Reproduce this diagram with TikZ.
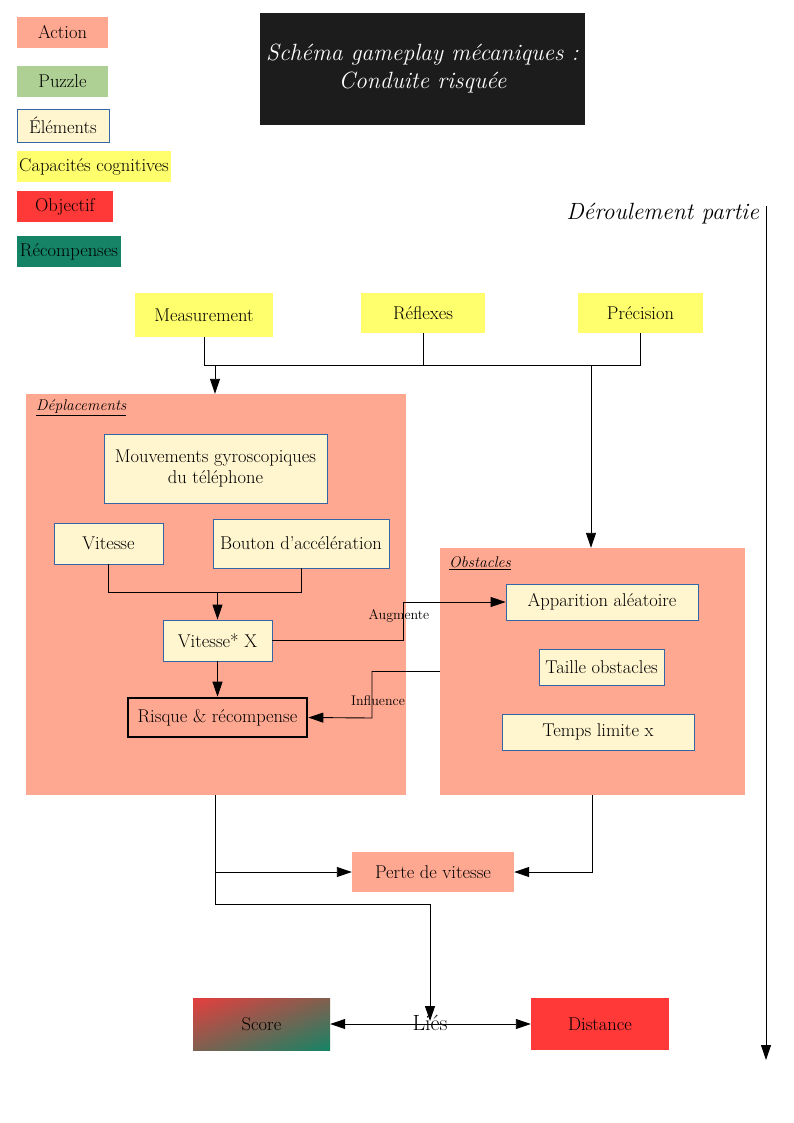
\documentclass[tikz,border=0pt]{standalone}
\usepackage{fontspec}
\usetikzlibrary{arrows.meta,calc,shadings}
\definecolor{salmon}{HTML}{FFA891}
\definecolor{puzz}{HTML}{AFD095}
\definecolor{cream}{HTML}{FFF5CE}
\definecolor{eblue}{HTML}{3465A4}
\definecolor{cogyel}{HTML}{FFFF6D}
\definecolor{objred}{HTML}{FF3838}
\definecolor{recgreen}{HTML}{158466}
\definecolor{titlebg}{HTML}{1C1C1C}
\definecolor{scoremid}{HTML}{80604F}
\definecolor{scorered}{HTML}{E53E3E}
\begin{document}
\begin{tikzpicture}[x=1pt,y=-1pt,
  every node/.style={inner sep=0pt, align=center},
  fs/.style={font=\fontsize{18.5}{21}\selectfont},
  sm/.style={font=\fontsize{14}{16}\selectfont},
  sz/.style 2 args={minimum width=#1pt, minimum height=#2pt},
  act/.style={fs, fill=salmon},
  elem/.style={fs, fill=cream, draw=eblue, line width=0.8pt},
  cog/.style={fs, fill=cogyel},
  grp/.style={fill=salmon},
  grplabel/.style={font=\fontsize{15.5}{18}\selectfont\itshape, anchor=west},
  wire/.style={line width=0.9pt},
  arr/.style={wire, -{Triangle[length=15pt,width=10pt]}},
  darr/.style={wire, {Triangle[length=15pt,width=10pt]}-{Triangle[length=15pt,width=10pt]}}]
\useasboundingbox (0,0) rectangle (794,1123);
\fill[white] (0,0) rectangle (794,1123);

% legend
\node[act, sz={91}{31}] (lact) at (62.5,32.5) {Action};
\node[fs, fill=puzz, sz={91}{31}] (lpuz) at (62.5,81.5) {Puzzle};
\node[elem, sz={92}{33}] (lelem) at (63,125.5) {Éléments};
\node[cog, sz={154}{31}] (lcog) at (94,166.5) {Capacités cognitives};
\node[fs, fill=objred, sz={96}{31}] (lobj) at (65,206.5) {Objectif};
\node[fs, fill=recgreen, sz={104}{31}] (lrec) at (69,251.5) {Récompenses};

% title
\node[fill=titlebg, text=white, sz={325}{112}, font=\fontsize{23.5}{28}\selectfont\itshape] (title) at (422.5,69) {Schéma gameplay mécaniques :\\Conduite risquée};

% timeline
\node[font=\fontsize{23.5}{26}\selectfont\itshape, anchor=east] (deroul) at (759,214) {Déroulement partie};
\coordinate (tl0) at (766,206);
\coordinate (tl1) at (766,1060);
\draw[arr] (tl0) -- (tl1);

% cognitive capacities
\node[cog, sz={138}{44}] (meas) at (204,315) {Measurement};
\node[cog, sz={124}{40}] (refl) at (423,313) {Réflexes};
\node[cog, sz={125}{40}] (prec) at (640.5,313) {Précision};

% groups
\node[grp, sz={380}{401}] (dep) at (216,594.5) {};
\node[grplabel] (deplab) at (36,408) {\underline{Déplacements}};
\node[grp, sz={305}{247}] (obs) at (592.5,671.5) {};
\node[grplabel] (obslab) at (449,563) {\underline{Obstacles}};

% connections from capacities
\coordinate (j1) at (215,365);
\coordinate (j2) at (591,365);
\draw[wire] (meas.south) -- (meas.south |- j1) -- (prec.south |- j1) -- (prec.south);
\draw[wire] (refl.south) -- (refl.south |- j1);
\draw[arr] (j1) -- (j1 |- dep.north);
\draw[arr] (j2) -- (j2 |- obs.north);

% Déplacements content
\node[elem, sz={223}{69}] (gyro) at (215.5,468.5) {Mouvements gyroscopiques\\du téléphone};
\node[elem, sz={109}{41}] (vit) at (108.5,543.5) {Vitesse};
\node[elem, sz={176}{49}] (bout) at (301,543.5) {Bouton d’accélération};
\node[elem, sz={109}{41}] (vx) at (217.5,640.5) {Vitesse* X};
\node[act, draw=black, line width=2.6pt, sz={179}{39}] (risk) at (217.5,717.5) {Risque \& récompense};

\coordinate (j3) at (217.5,592);
\draw[wire] (vit.south) -- (vit.south |- j3) -- (bout.south |- j3) -- (bout.south);
\draw[arr] (j3) -- (vx.north);
\draw[arr] (vx.south) -- (risk.north);

% Obstacles content
\node[elem, sz={192}{36}] (app) at (602,602) {Apparition aléatoire};
\node[elem, sz={125}{36}] (taille) at (601.5,667) {Taille obstacles};
\node[elem, sz={192}{36}] (temps) at (598,732) {Temps limite x};

% cross links
\coordinate (aug) at (403,602);
\draw[arr] (vx.east) -| (aug) -- (app.west);
\node[sm] (auglab) at (399,616) {Augmente};
\coordinate (inf) at (372,718);
\draw[arr] (obs.west) -| (inf) -- (risk.east);
\node[sm] (inflab) at (378,701) {Influence};

% bottom
\node[act, sz={162}{40}] (perte) at (433,872) {Perte de vitesse};
\node[fs, sz={137}{52}, upper left=scorered, lower right=recgreen, upper right=scoremid, lower left=scoremid] (score) at (261.5,1024) {Score};
\node[fs, fill=objred, sz={138}{52}] (dist) at (600,1024) {Distance};

\coordinate (b1) at (215,872);
\coordinate (b2) at (215,904);
\coordinate (b3) at (430,904);
\coordinate (liestip) at (430,1021);
\coordinate (obsb) at (592,795);
\draw[wire] (dep.south -| b1) -- (b2) -- (b3);
\draw[arr] (b1) -- (perte.west);
\draw[arr] (b3) -- (liestip);
\draw[arr] (obsb) |- (perte.east);
\draw[darr] (score.east) -- (dist.west);
\node[font=\fontsize{22}{25}\selectfont] (lies) at (430,1023) {Liés};
\end{tikzpicture}
\end{document}
